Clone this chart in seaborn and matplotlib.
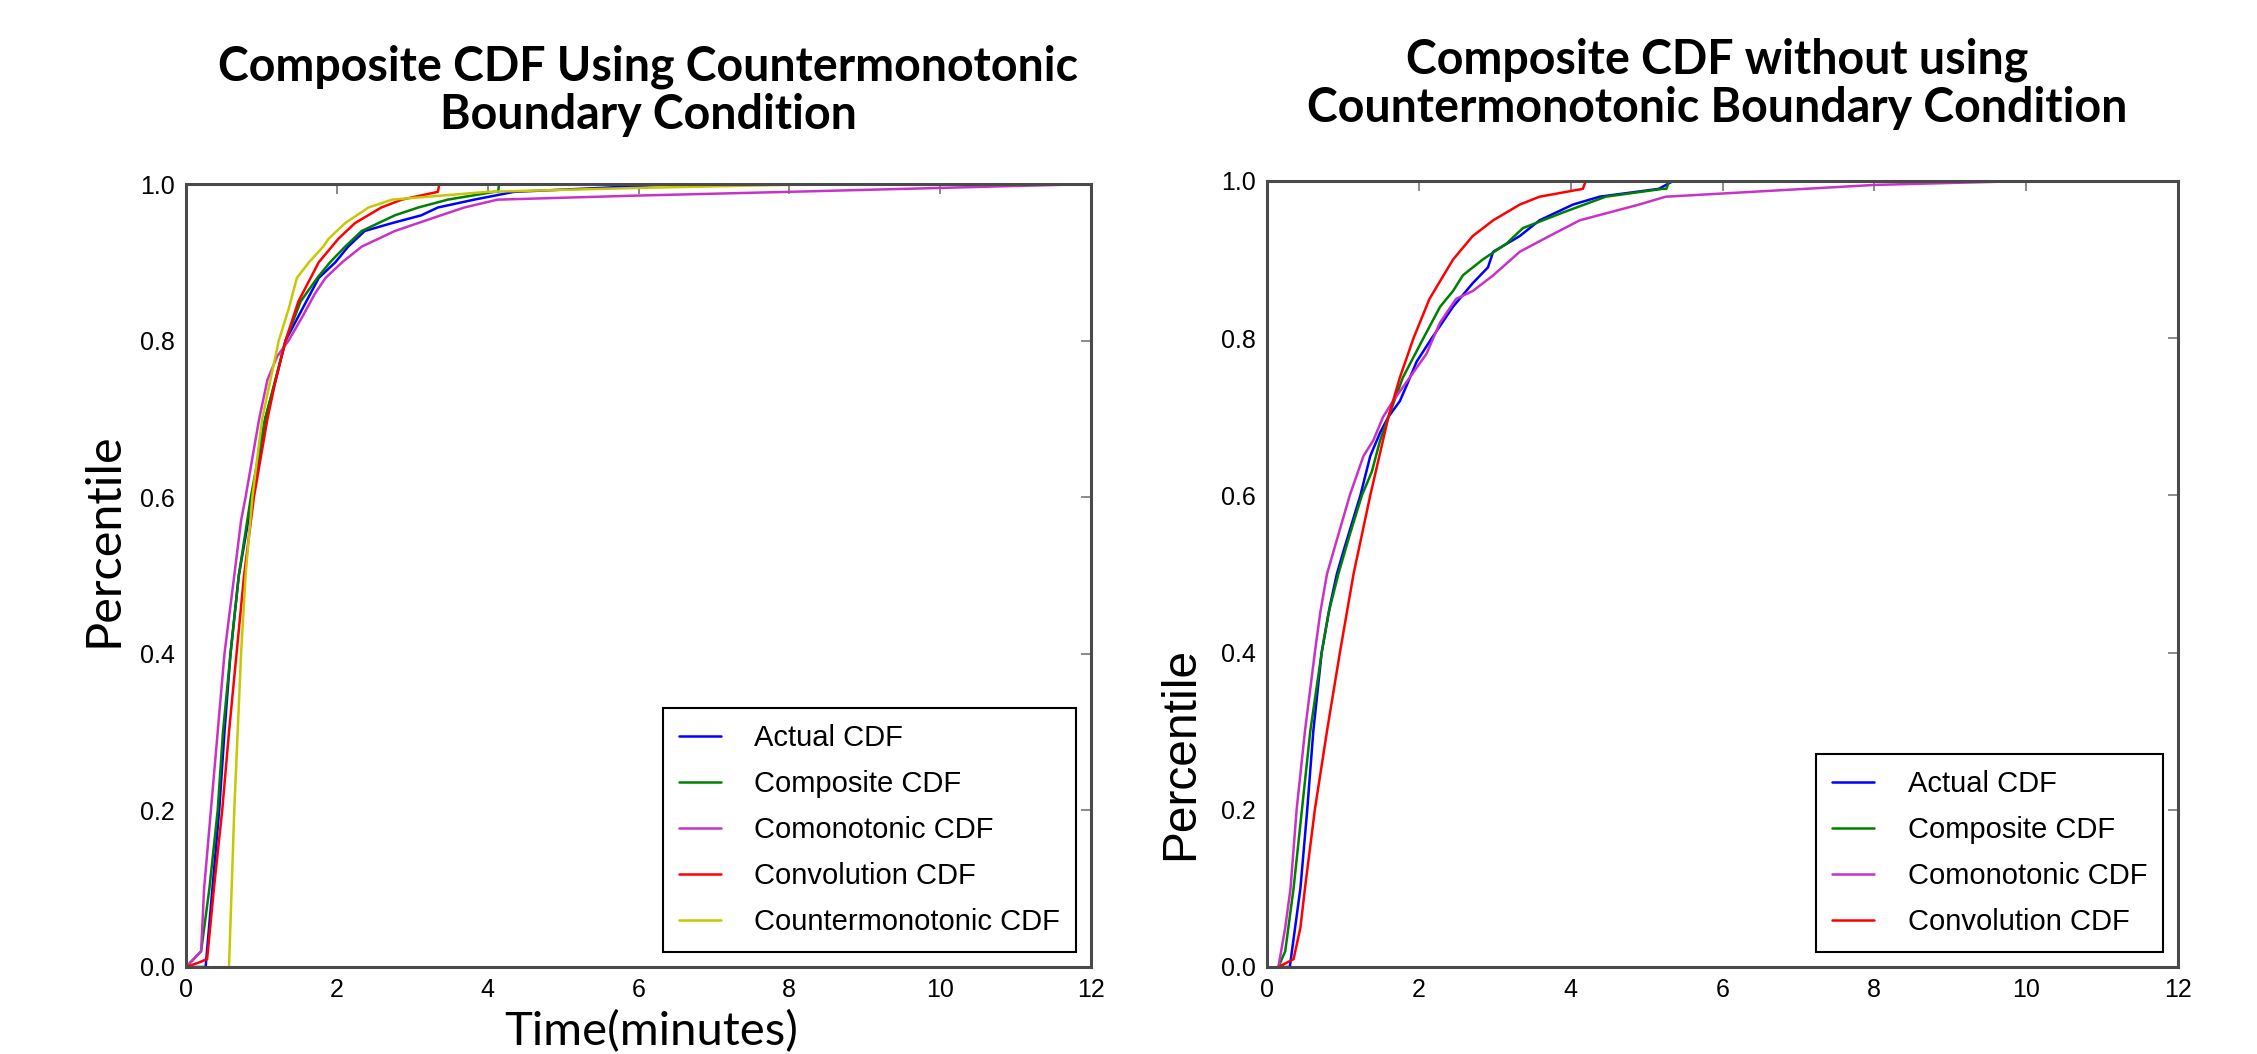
import pandas as pd
import numpy as np
import matplotlib
matplotlib.use("Agg")
import matplotlib.pyplot as plt
import seaborn as sns

sns.set_style("white")
plt.rcParams["text.color"] = "black"
plt.rcParams["axes.labelcolor"] = "black"
plt.rcParams["xtick.labelcolor"] = "black"
plt.rcParams["ytick.labelcolor"] = "black"

## Data (time in minutes, cumulative share)
labels_left = ["Actual CDF", "Composite CDF", "Comonotonic CDF", "Convolution CDF", "Countermonotonic CDF"]
labels_right = ["Actual CDF", "Composite CDF", "Comonotonic CDF", "Convolution CDF"]
colors = {"Actual CDF": "#0000ff", "Composite CDF": "#008000", "Comonotonic CDF": "#c832c8",
          "Convolution CDF": "#ff0000", "Countermonotonic CDF": "#c8c800"}

# left panel
left_actual_x = [0, 0.26, 0.35, 0.44, 0.51, 0.59, 0.70, 0.79, 0.88, 1.05, 1.19, 1.32, 1.54, 1.76, 1.98,
                 2.15, 2.37, 2.73, 3.12, 3.34, 3.82, 4.35, 5.5, 6.5]
left_actual_y = [0, 0, 0.1, 0.2, 0.3, 0.4, 0.5, 0.55, 0.6, 0.7, 0.75, 0.8, 0.84, 0.88, 0.9,
                 0.92, 0.94, 0.95, 0.96, 0.97, 0.98, 0.99, 0.995, 1.0]
left_comp_x = [0, 0.2, 0.31, 0.42, 0.49, 0.59, 0.70, 0.86, 1.05, 1.32, 1.52, 1.74, 1.91, 2.11, 2.33,
               2.77, 3.08, 3.47, 4.09, 4.14, 4.15]
left_comp_y = [0, 0.02, 0.1, 0.2, 0.3, 0.4, 0.5, 0.6, 0.7, 0.8, 0.85, 0.88, 0.9, 0.92, 0.94,
               0.96, 0.97, 0.98, 0.99, 0.99, 1.0]
left_como_x = [0, 0.2, 0.24, 0.33, 0.42, 0.51, 0.64, 0.73, 0.79, 0.97, 1.08, 1.21, 1.36, 1.54, 1.71,
               1.85, 2.07, 2.33, 2.77, 3.38, 3.69, 4.13, 5.9, 8.0, 10.0, 12.0]
left_como_y = [0, 0.02, 0.1, 0.2, 0.3, 0.4, 0.5, 0.57, 0.6, 0.7, 0.75, 0.78, 0.8, 0.83, 0.86,
               0.88, 0.9, 0.92, 0.94, 0.96, 0.97, 0.98, 0.985, 0.99, 0.995, 1.0]
left_conv_x = [0, 0.15, 0.28, 0.37, 0.48, 0.57, 0.67, 0.77, 0.90, 1.08, 1.19, 1.32, 1.49, 1.76, 2.02,
               2.24, 2.59, 2.86, 3.34, 3.36]
left_conv_y = [0, 0.005, 0.01, 0.1, 0.2, 0.3, 0.4, 0.5, 0.6, 0.7, 0.75, 0.8, 0.85, 0.9, 0.93,
               0.95, 0.97, 0.98, 0.99, 1.0]
left_counter_x = [0.57, 0.64, 0.73, 0.79, 0.88, 1.01, 1.12, 1.23, 1.36, 1.47, 1.63, 1.82, 1.89, 2.11,
                  2.42, 2.73, 4.0, 6.0, 8.5]
left_counter_y = [0, 0.2, 0.4, 0.5, 0.6, 0.7, 0.75, 0.8, 0.84, 0.88, 0.9, 0.92, 0.93, 0.95,
                  0.97, 0.98, 0.99, 0.995, 1.0]

# right panel
right_actual_x = [0.15, 0.3, 0.37, 0.44, 0.53, 0.61, 0.72, 0.83, 0.92, 1.01, 1.23, 1.36, 1.49, 1.60,
                  1.75, 1.84, 1.97, 2.17, 2.45, 2.71, 2.91, 2.98, 3.33, 3.59, 4.03, 4.38, 5.16, 5.35]
right_actual_y = [0, 0, 0.05, 0.1, 0.2, 0.3, 0.4, 0.46, 0.5, 0.53, 0.6, 0.65, 0.68, 0.7,
                  0.72, 0.74, 0.77, 0.8, 0.84, 0.87, 0.89, 0.91, 0.93, 0.95, 0.97, 0.98, 0.99, 1.0]
right_comp_x = [0.15, 0.24, 0.35, 0.46, 0.57, 0.72, 0.81, 0.94, 1.09, 1.25, 1.38, 1.49, 1.60, 1.79,
                2.06, 2.28, 2.45, 2.58, 2.84, 3.15, 3.37, 3.90, 4.46, 5.21, 5.26, 5.3]
right_comp_y = [0, 0.02, 0.1, 0.2, 0.3, 0.4, 0.45, 0.5, 0.55, 0.6, 0.63, 0.67, 0.7, 0.75,
                0.8, 0.84, 0.86, 0.88, 0.9, 0.92, 0.94, 0.96, 0.98, 0.99, 0.99, 1.0]
right_como_x = [0.15, 0.24, 0.31, 0.39, 0.50, 0.63, 0.70, 0.79, 0.94, 1.09, 1.27, 1.40, 1.53, 1.66,
                1.88, 2.10, 2.28, 2.49, 2.71, 2.98, 3.33, 3.72, 4.12, 4.90, 5.25, 8.0, 10.0]
right_como_y = [0, 0.05, 0.1, 0.2, 0.3, 0.4, 0.45, 0.5, 0.55, 0.6, 0.65, 0.67, 0.7, 0.72,
                0.75, 0.78, 0.82, 0.85, 0.86, 0.88, 0.91, 0.93, 0.95, 0.97, 0.98, 0.995, 1.0]
right_conv_x = [0.15, 0.35, 0.44, 0.50, 0.63, 0.79, 0.96, 1.14, 1.36, 1.60, 1.75, 1.93, 2.14, 2.45,
                2.71, 2.98, 3.33, 3.59, 4.16, 4.2]
right_conv_y = [0, 0.01, 0.05, 0.1, 0.2, 0.3, 0.4, 0.5, 0.6, 0.7, 0.75, 0.8, 0.85, 0.9,
                0.93, 0.95, 0.97, 0.98, 0.99, 1.0]


def long_frame(series):
    parts = []
    for name, xs, ys in series:
        parts.append(pd.DataFrame({"time": xs, "pct": ys, "curve": name, "order": np.arange(len(xs))}))
    return pd.concat(parts, ignore_index=True)


left_df = long_frame([
    ("Actual CDF", left_actual_x, left_actual_y),
    ("Composite CDF", left_comp_x, left_comp_y),
    ("Comonotonic CDF", left_como_x, left_como_y),
    ("Convolution CDF", left_conv_x, left_conv_y),
    ("Countermonotonic CDF", left_counter_x, left_counter_y),
])
right_df = long_frame([
    ("Actual CDF", right_actual_x, right_actual_y),
    ("Composite CDF", right_comp_x, right_comp_y),
    ("Comonotonic CDF", right_como_x, right_como_y),
    ("Convolution CDF", right_conv_x, right_conv_y),
])

W, H = 2257, 1054
fig = plt.figure(figsize=(W / 100, H / 100), dpi=100)
ax_l = fig.add_axes([186 / W, 1 - 967 / H, (1091 - 186) / W, (967 - 184) / H])
ax_r = fig.add_axes([1267 / W, 1 - 967 / H, (2178 - 1267) / W, (967 - 181) / H])

for ax, df, labels in [(ax_l, left_df, labels_left), (ax_r, right_df, labels_right)]:
    sns.lineplot(data=df, x="time", y="pct", hue="curve", hue_order=labels,
                 palette=colors, estimator=None, sort=False, units="curve",
                 linewidth=1.8, ax=ax)
    ax.set_xlim(0, 12)
    ax.set_ylim(0, 1.0)
    ax.set_xticks(range(0, 13, 2))
    ax.set_yticks([0.0, 0.2, 0.4, 0.6, 0.8, 1.0])
    ax.set_yticklabels(["0.0", "0.2", "0.4", "0.6", "0.8", "1.0"])
    ax.tick_params(direction="in", top=True, right=True, length=7, width=1.2,
                   color="#777777", labelsize=18, pad=8, labelcolor="black")
    for lab in ax.get_xticklabels() + ax.get_yticklabels():
        lab.set_family("Liberation Sans")
    for sp in ax.spines.values():
        sp.set_linewidth(2.2)
        sp.set_color("#4a4a4a")
    ax.set_xlabel("")
    handles, _ = ax.get_legend_handles_labels()
    leg = ax.legend(handles, labels, loc="lower right", prop={"family": "Liberation Sans", "size": 21},
                    fancybox=False, edgecolor="black", framealpha=1, handlelength=1.45,
                    handletextpad=1.15, borderpad=0.55, labelspacing=0.62, borderaxespad=0.5)
    leg.get_frame().set_linewidth(1.5)
    for t in leg.get_texts():
        t.set_color("black")

# axis labels
ax_l.set_ylabel("Percentile", fontsize=35, family="Lato", va="center", color="black")
ax_l.yaxis.set_label_coords((104 - 186) / 905, (967 - 540) / 783)
ax_l.set_xlabel("Time(minutes)", fontsize=34, family="Lato", va="center", color="black")
ax_l.xaxis.set_label_coords((651 - 186) / 905, (967 - 1032) / 783)
ax_r.set_ylabel("Percentile", fontsize=34.5, family="Liberation Sans", va="center", color="black")
ax_r.yaxis.set_label_coords((1181 - 1267) / 911, (967 - 753) / 786)

# titles
fig.text(648 / W, 1 - 91 / H, "Composite CDF Using Countermonotonic\nBoundary Condition",
         ha="center", va="center", fontsize=33.5, fontweight="bold", family="Lato",
         linespacing=1.12, color="black")
fig.text(1717 / W, 1 - 84 / H, "Composite CDF without using\nCountermonotonic Boundary Condition",
         ha="center", va="center", fontsize=33.5, fontweight="bold", family="Lato",
         linespacing=1.12, color="black")

plt.savefig("out.png", dpi=100)
plt.close()
